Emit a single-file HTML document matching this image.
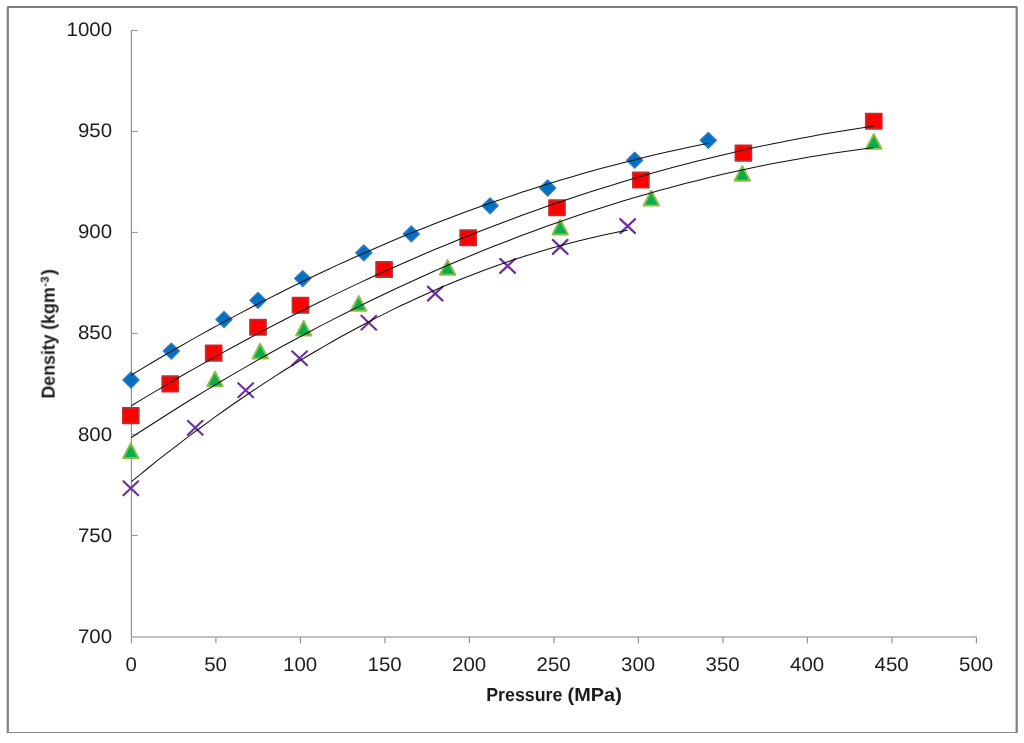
<!DOCTYPE html>
<html><head><meta charset="utf-8"><title>Density vs Pressure</title>
<style>
html,body{margin:0;padding:0;background:#fff;}
body{width:1024px;height:743px;overflow:hidden;font-family:"Liberation Sans",sans-serif;}
svg{display:block;}
text{font-family:"Liberation Sans",sans-serif;fill:#1c1c1c;text-rendering:geometricPrecision;}
.tk{font-size:19.6px;}
.ttl{font-size:18.8px;font-weight:bold;}
</style></head><body>
<svg width="1024" height="743" viewBox="0 0 1024 743">
<rect x="0" y="0" width="1024" height="743" fill="#ffffff"/>
<path d="M7.8 732.5 V7.6 Q7.8 7 8.4 7 H1016.1 Q1016.7 7 1016.7 7.6 V732.5" fill="none" stroke="#7f7f7f" stroke-width="2.2"/>
<line x1="6.7" y1="732.5" x2="1017.8" y2="732.5" stroke="#858585" stroke-width="1.2"/>
<g stroke="#8c8c8c" stroke-width="1.15" fill="none">
<line x1="131.4" y1="29.9" x2="131.4" y2="643.3"/>
<line x1="131.4" y1="30.40" x2="137.8" y2="30.40" stroke-width="1"/>
<line x1="131.4" y1="131.40" x2="137.8" y2="131.40" stroke-width="1"/>
<line x1="131.4" y1="232.40" x2="137.8" y2="232.40" stroke-width="1"/>
<line x1="131.4" y1="333.40" x2="137.8" y2="333.40" stroke-width="1"/>
<line x1="131.4" y1="434.40" x2="137.8" y2="434.40" stroke-width="1"/>
<line x1="131.4" y1="535.40" x2="137.8" y2="535.40" stroke-width="1"/>
<line x1="215.90" y1="637.0" x2="215.90" y2="643.3"/>
<line x1="300.40" y1="637.0" x2="300.40" y2="643.3"/>
<line x1="384.90" y1="637.0" x2="384.90" y2="643.3"/>
<line x1="469.40" y1="637.0" x2="469.40" y2="643.3"/>
<line x1="553.90" y1="637.0" x2="553.90" y2="643.3"/>
<line x1="638.40" y1="637.0" x2="638.40" y2="643.3"/>
<line x1="722.90" y1="637.0" x2="722.90" y2="643.3"/>
<line x1="807.40" y1="637.0" x2="807.40" y2="643.3"/>
<line x1="891.90" y1="637.0" x2="891.90" y2="643.3"/>
<line x1="976.40" y1="637.0" x2="976.40" y2="643.3"/>
</g>
<line x1="131.4" y1="637.0" x2="977.0" y2="637.0" stroke="#adadad" stroke-width="1.55"/>
<g opacity="0.999">
<text class="tk" transform="translate(112.1,36.15) scale(1.045,1)" text-anchor="end">1000</text>
<text class="tk" transform="translate(112.1,137.25) scale(1.045,1)" text-anchor="end">950</text>
<text class="tk" transform="translate(112.1,238.35) scale(1.045,1)" text-anchor="end">900</text>
<text class="tk" transform="translate(112.1,339.45) scale(1.045,1)" text-anchor="end">850</text>
<text class="tk" transform="translate(112.1,440.55) scale(1.045,1)" text-anchor="end">800</text>
<text class="tk" transform="translate(112.1,541.65) scale(1.045,1)" text-anchor="end">750</text>
<text class="tk" transform="translate(112.1,642.75) scale(1.045,1)" text-anchor="end">700</text>
<text class="tk" transform="translate(131.10,670.8) scale(1.045,1)" text-anchor="middle">0</text>
<text class="tk" transform="translate(215.60,670.8) scale(1.045,1)" text-anchor="middle">50</text>
<text class="tk" transform="translate(300.10,670.8) scale(1.045,1)" text-anchor="middle">100</text>
<text class="tk" transform="translate(384.60,670.8) scale(1.045,1)" text-anchor="middle">150</text>
<text class="tk" transform="translate(469.10,670.8) scale(1.045,1)" text-anchor="middle">200</text>
<text class="tk" transform="translate(553.60,670.8) scale(1.045,1)" text-anchor="middle">250</text>
<text class="tk" transform="translate(638.10,670.8) scale(1.045,1)" text-anchor="middle">300</text>
<text class="tk" transform="translate(722.60,670.8) scale(1.045,1)" text-anchor="middle">350</text>
<text class="tk" transform="translate(807.10,670.8) scale(1.045,1)" text-anchor="middle">400</text>
<text class="tk" transform="translate(891.60,670.8) scale(1.045,1)" text-anchor="middle">450</text>
<text class="tk" transform="translate(976.10,670.8) scale(1.045,1)" text-anchor="middle">500</text>
<text class="ttl" x="486.2" y="701.2" textLength="76.2" lengthAdjust="spacingAndGlyphs">Pressure</text>
<text class="ttl" x="567.6" y="701.2" textLength="54.2" lengthAdjust="spacingAndGlyphs">(MPa)</text>
<g transform="translate(54.6,397.3) rotate(-90)">
<text class="ttl" x="-1.3" y="0" textLength="64.2" lengthAdjust="spacingAndGlyphs">Density</text>
<text class="ttl" x="67.4" y="0" textLength="42.6" lengthAdjust="spacingAndGlyphs">(kgm</text>
<text class="ttl" x="110.6" y="-5.9" style="font-size:11.5px">-3</text>
<text class="ttl" x="122.0" y="0">)</text>
</g>
</g>
<g fill="#0070c0" stroke="#3279c9" stroke-width="1.4" stroke-linejoin="round">
<path d="M123.0 380.0 l8 -7.9 l8 7.9 l-8 7.9 z"/>
<path d="M163.3 351.1 l8 -7.9 l8 7.9 l-8 7.9 z"/>
<path d="M216.0 319.5 l8 -7.9 l8 7.9 l-8 7.9 z"/>
<path d="M250.0 300.3 l8 -7.9 l8 7.9 l-8 7.9 z"/>
<path d="M294.7 278.6 l8 -7.9 l8 7.9 l-8 7.9 z"/>
<path d="M355.8 252.8 l8 -7.9 l8 7.9 l-8 7.9 z"/>
<path d="M403.3 233.9 l8 -7.9 l8 7.9 l-8 7.9 z"/>
<path d="M482.1 205.8 l8 -7.9 l8 7.9 l-8 7.9 z"/>
<path d="M539.7 188.0 l8 -7.9 l8 7.9 l-8 7.9 z"/>
<path d="M626.7 160.2 l8 -7.9 l8 7.9 l-8 7.9 z"/>
<path d="M700.3 140.3 l8 -7.9 l8 7.9 l-8 7.9 z"/>
</g>
<g fill="#ff0000" stroke="#c52c2c" stroke-width="1.7" stroke-linejoin="round">
<rect x="122.8" y="407.9" width="16" height="15.4"/>
<rect x="162.2" y="376.2" width="16" height="15.4"/>
<rect x="205.7" y="345.4" width="16" height="15.4"/>
<rect x="250.0" y="319.6" width="16" height="15.4"/>
<rect x="292.5" y="297.5" width="16" height="15.4"/>
<rect x="376.1" y="261.8" width="16" height="15.4"/>
<rect x="460.2" y="230.1" width="16" height="15.4"/>
<rect x="549.0" y="200.1" width="16" height="15.4"/>
<rect x="632.9" y="172.3" width="16" height="15.4"/>
<rect x="735.4" y="145.4" width="16" height="15.4"/>
<rect x="865.8" y="113.5" width="16" height="15.4"/>
</g>
<g fill="#00b050" stroke="#8fbc45" stroke-width="2" stroke-linejoin="round">
<path d="M130.8 443.4 l7.7 14.7 h-15.4 z"/>
<path d="M215.0 371.6 l7.7 14.7 h-15.4 z"/>
<path d="M260.2 343.8 l7.7 14.7 h-15.4 z"/>
<path d="M303.7 320.9 l7.7 14.7 h-15.4 z"/>
<path d="M358.7 296.1 l7.7 14.7 h-15.4 z"/>
<path d="M447.6 260.1 l7.7 14.7 h-15.4 z"/>
<path d="M560.2 219.7 l7.7 14.7 h-15.4 z"/>
<path d="M651.3 190.8 l7.7 14.7 h-15.4 z"/>
<path d="M742.3 166.1 l7.7 14.7 h-15.4 z"/>
<path d="M873.8 134.1 l7.7 14.7 h-15.4 z"/>
</g>
<g stroke="#7030a0" stroke-width="2.2" stroke-linecap="round" fill="none">
<path d="M123.4 481.3 l14.8 14 m0 -14 l-14.8 14"/>
<path d="M187.8 420.8 l14.8 14 m0 -14 l-14.8 14"/>
<path d="M238.3 383.2 l14.8 14 m0 -14 l-14.8 14"/>
<path d="M292.2 351.3 l14.8 14 m0 -14 l-14.8 14"/>
<path d="M361.4 315.7 l14.8 14 m0 -14 l-14.8 14"/>
<path d="M427.8 286.6 l14.8 14 m0 -14 l-14.8 14"/>
<path d="M500.2 258.9 l14.8 14 m0 -14 l-14.8 14"/>
<path d="M552.8 239.9 l14.8 14 m0 -14 l-14.8 14"/>
<path d="M620.3 219.1 l14.8 14 m0 -14 l-14.8 14"/>
</g>
<g stroke="#111111" stroke-width="1.05" fill="none" stroke-linejoin="round">
<path d="M131.4 375.0 L141.2 369.1 L151.0 363.3 L160.7 357.5 L170.5 351.8 L180.3 346.2 L190.1 340.6 L199.8 335.1 L209.6 329.7 L219.4 324.4 L229.2 319.1 L239.0 313.9 L248.7 308.7 L258.5 303.6 L268.3 298.6 L278.1 293.7 L287.8 288.8 L297.6 284.0 L307.4 279.2 L317.2 274.6 L327.0 270.0 L336.7 265.4 L346.5 261.0 L356.3 256.6 L366.1 252.2 L375.8 248.0 L385.6 243.8 L395.4 239.6 L405.2 235.6 L415.0 231.6 L424.7 227.7 L434.5 223.8 L444.3 220.0 L454.1 216.3 L463.9 212.6 L473.6 209.0 L483.4 205.5 L493.2 202.1 L503.0 198.7 L512.7 195.4 L522.5 192.1 L532.3 188.9 L542.1 185.8 L551.9 182.8 L561.6 179.8 L571.4 176.9 L581.2 174.1 L591.0 171.3 L600.7 168.6 L610.5 166.0 L620.3 163.4 L630.1 160.9 L639.9 158.5 L649.6 156.1 L659.4 153.8 L669.2 151.6 L679.0 149.4 L688.7 147.3 L698.5 145.3 L708.3 143.3"/>
<path d="M131.4 405.8 L144.0 398.1 L156.6 390.6 L169.1 383.2 L181.7 375.8 L194.3 368.6 L206.9 361.5 L219.5 354.4 L232.1 347.5 L244.6 340.7 L257.2 333.9 L269.8 327.3 L282.4 320.8 L295.0 314.3 L307.6 308.0 L320.1 301.8 L332.7 295.6 L345.3 289.6 L357.9 283.6 L370.5 277.8 L383.0 272.1 L395.6 266.4 L408.2 260.9 L420.8 255.5 L433.4 250.1 L446.0 244.9 L458.5 239.7 L471.1 234.7 L483.7 229.8 L496.3 224.9 L508.9 220.2 L521.4 215.5 L534.0 211.0 L546.6 206.6 L559.2 202.2 L571.8 198.0 L584.4 193.8 L596.9 189.8 L609.5 185.9 L622.1 182.0 L634.7 178.3 L647.3 174.6 L659.9 171.1 L672.4 167.6 L685.0 164.3 L697.6 161.1 L710.2 157.9 L722.8 154.9 L735.3 151.9 L747.9 149.1 L760.5 146.3 L773.1 143.7 L785.7 141.2 L798.3 138.7 L810.8 136.4 L823.4 134.1 L836.0 132.0 L848.6 129.9 L861.2 128.0 L873.8 126.1"/>
<path d="M131.4 437.5 L144.0 429.3 L156.6 421.2 L169.1 413.2 L181.7 405.3 L194.3 397.5 L206.9 389.9 L219.5 382.3 L232.1 374.9 L244.6 367.6 L257.2 360.4 L269.8 353.3 L282.4 346.3 L295.0 339.5 L307.6 332.7 L320.1 326.1 L332.7 319.6 L345.3 313.2 L357.9 306.9 L370.5 300.7 L383.0 294.7 L395.6 288.7 L408.2 282.9 L420.8 277.2 L433.4 271.6 L446.0 266.1 L458.5 260.7 L471.1 255.5 L483.7 250.3 L496.3 245.3 L508.9 240.4 L521.4 235.6 L534.0 230.9 L546.6 226.3 L559.2 221.9 L571.8 217.5 L584.4 213.3 L596.9 209.2 L609.5 205.2 L622.1 201.3 L634.7 197.5 L647.3 193.9 L659.9 190.3 L672.4 186.9 L685.0 183.6 L697.6 180.4 L710.2 177.3 L722.8 174.3 L735.3 171.5 L747.9 168.8 L760.5 166.1 L773.1 163.6 L785.7 161.2 L798.3 158.9 L810.8 156.8 L823.4 154.7 L836.0 152.8 L848.6 150.9 L861.2 149.2 L873.8 147.6"/>
<path d="M131.4 481.7 L139.8 474.8 L148.2 468.0 L156.6 461.2 L165.0 454.6 L173.5 448.1 L181.9 441.6 L190.3 435.2 L198.7 429.0 L207.1 422.8 L215.5 416.7 L223.9 410.7 L232.3 404.8 L240.8 399.0 L249.2 393.3 L257.6 387.6 L266.0 382.1 L274.4 376.6 L282.8 371.3 L291.2 366.0 L299.6 360.8 L308.0 355.8 L316.5 350.8 L324.9 345.9 L333.3 341.0 L341.7 336.3 L350.1 331.7 L358.5 327.2 L366.9 322.7 L375.3 318.4 L383.8 314.1 L392.2 309.9 L400.6 305.8 L409.0 301.9 L417.4 298.0 L425.8 294.2 L434.2 290.4 L442.6 286.8 L451.1 283.3 L459.5 279.8 L467.9 276.5 L476.3 273.2 L484.7 270.1 L493.1 267.0 L501.5 264.0 L509.9 261.1 L518.3 258.3 L526.8 255.6 L535.2 253.0 L543.6 250.5 L552.0 248.0 L560.4 245.7 L568.8 243.4 L577.2 241.3 L585.6 239.2 L594.1 237.2 L602.5 235.3 L610.9 233.5 L619.3 231.8 L627.7 230.2"/>
</g>
</svg>
</body></html>
